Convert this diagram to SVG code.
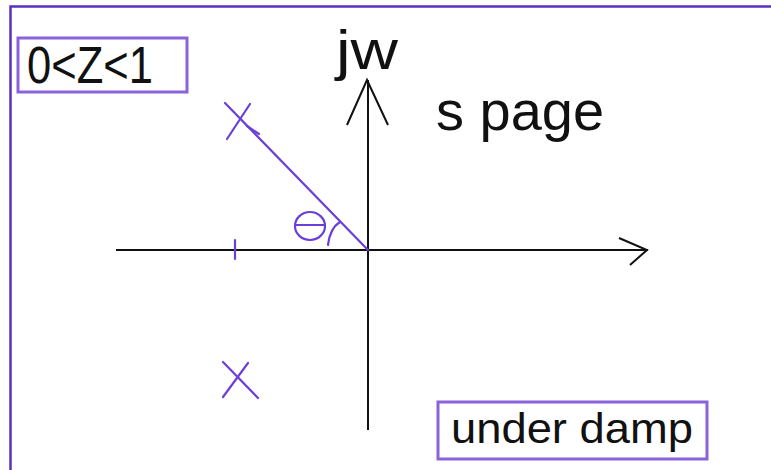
<svg xmlns="http://www.w3.org/2000/svg" width="771" height="470" viewBox="0 0 771 470">
<style>
.t{font-family:"Liberation Sans",Arial,sans-serif;fill:#111}
.ax{stroke:#111;stroke-width:2;fill:none}
.pu{stroke:#6a40d8;stroke-width:2.2;fill:none;stroke-linecap:round}
.box{fill:#fff;stroke:#8a62dc;stroke-width:3}
</style>
<rect x="0" y="0" width="771" height="470" fill="#fff"/>
<path d="M10.5 470 V6.5 H771" fill="none" stroke="#5a30c0" stroke-width="2.5"/>
<g id="connectors">
<line class="ax" x1="116" y1="250" x2="648" y2="250"/>
<polyline class="ax" points="619,238 647,250 630,265"/>
<line class="ax" x1="368" y1="80" x2="368" y2="430"/>
<polyline class="ax" points="347,125 367,80 388,125"/>
<line class="pu" x1="225" y1="103" x2="368" y2="250"/>
</g>
<g id="pole-upper">
<line class="pu" x1="250" y1="104" x2="227" y2="139"/>
<line class="pu" x1="247" y1="126" x2="259" y2="134"/>
</g>
<g id="pole-lower">
<line class="pu" x1="223" y1="362" x2="258" y2="398"/>
<line class="pu" x1="248" y1="363" x2="223" y2="397"/>
</g>
<g id="tick">
<line class="pu" x1="235" y1="240" x2="235" y2="259"/>
</g>
<g id="theta">
<ellipse class="pu" cx="310" cy="226" rx="15" ry="14"/>
<line class="pu" x1="296" y1="225" x2="325" y2="225"/>
<path class="pu" d="M340 222 Q330 228 328 245"/>
</g>
<g id="label-jw"><text class="t" x="336" y="69" font-size="56" textLength="62" lengthAdjust="spacingAndGlyphs">jw</text></g>
<g id="label-spage"><text class="t" x="436" y="130" font-size="56" textLength="168" lengthAdjust="spacingAndGlyphs">s page</text></g>
<g id="box-z">
<rect class="box" x="18" y="38" width="169" height="54"/>
<text class="t" x="27" y="83" font-size="52" textLength="126" lengthAdjust="spacingAndGlyphs">0&lt;Z&lt;1</text>
</g>
<g id="box-damp">
<rect class="box" x="438" y="402" width="269" height="57"/>
<text class="t" x="451" y="443" font-size="43" textLength="242" lengthAdjust="spacingAndGlyphs">under damp</text>
</g>
</svg>
